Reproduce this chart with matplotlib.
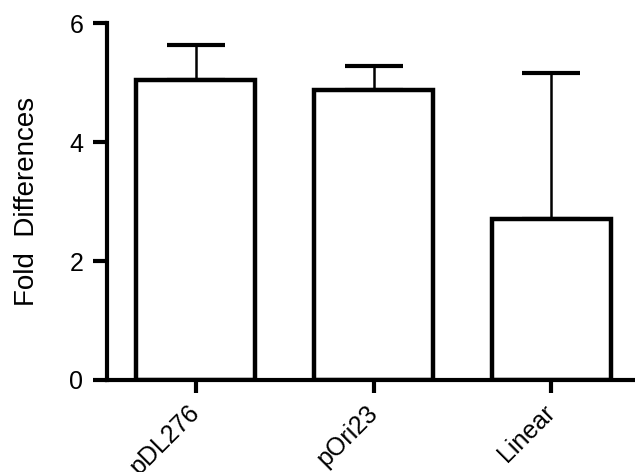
import matplotlib.pyplot as plt
import numpy as np

plt.rcParams['font.family'] = ['Liberation Sans', 'DejaVu Sans']

categories = ['pDL276', 'pOri23', 'Linear']
fold_diff = [5.04, 4.87, 2.70]
err_up = [0.59, 0.41, 2.46]

fig = plt.figure(figsize=(6.35, 4.72), dpi=100)
ax = fig.add_axes([0.1685, 0.195, 0.8315, 0.756])

x = np.arange(len(categories))
ax.bar(x, fold_diff, width=0.67, color='white', edgecolor='black',
       linewidth=3.2, zorder=2)
ax.errorbar(x, fold_diff, yerr=[np.zeros(len(x)), err_up], fmt='none',
            ecolor='black', elinewidth=1.8, capsize=21, capthick=3.0,
            zorder=1)

ax.set_xlim(-0.5, 2.47)
ax.set_ylim(0, 6)
ax.set_yticks([0, 2, 4, 6])
ax.set_xticks(x)
ax.set_xticklabels(categories, rotation=45, ha='right', va='center',
                   rotation_mode='anchor', fontsize=18)
ax.set_ylabel('Fold  Differences', fontsize=20)
ax.yaxis.set_label_coords(-0.127, 0.5)

for s in ['top', 'right']:
    ax.spines[s].set_visible(False)
for s in ['left', 'bottom']:
    ax.spines[s].set_linewidth(3.0)
ax.spines['bottom'].set_zorder(3)

ax.tick_params(axis='y', length=10, width=3.0, labelsize=18, pad=7)
ax.tick_params(axis='x', length=9, width=3.0, pad=12)

fig.savefig('out.png', dpi=100)
